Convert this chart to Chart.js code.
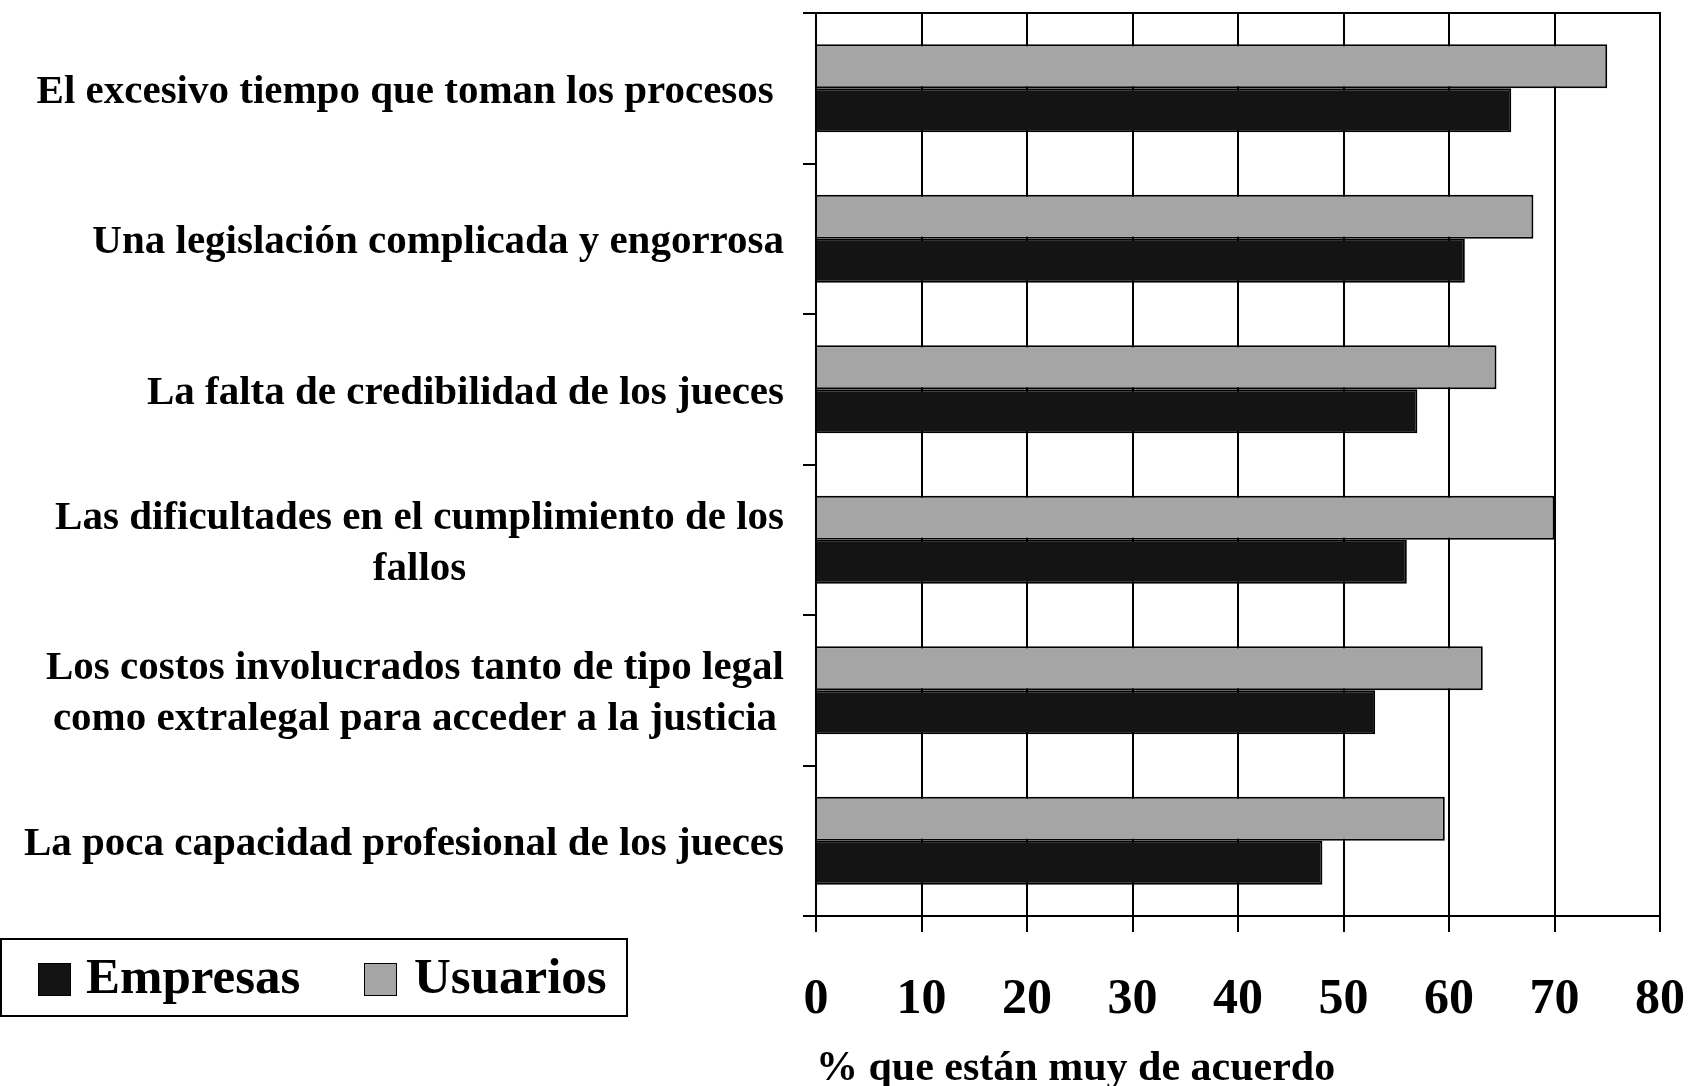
<!DOCTYPE html>
<html>
<head>
<meta charset="utf-8">
<script src="https://cdn.jsdelivr.net/npm/chart.js@4/dist/chart.umd.min.js"></script>
<style>
  body { margin: 0; background: #fff; }
  #wrap { position: relative; width: 1690px; height: 1086px; }
  #chart { position: absolute; left: 0; top: 0; }
  .legend {
    position: absolute; left: 0; top: 938px; width: 624px; height: 75px;
    border: 2px solid #000; background: #fff;
    font-family: "Liberation Serif", "Times New Roman", serif; font-weight: bold; font-size: 51px;
  }
  .legend .sw { position: absolute; top: 23px; width: 31px; height: 31px; border: 1px solid #000; }
  .legend .lb { position: absolute; top: 3px; line-height: 66px; color: #000; }
</style>
</head>
<body>
<div id="wrap">
  <canvas id="chart" width="1690" height="1086"></canvas>
  <div class="legend">
    <span class="sw" style="left:36px;background:#141414"></span>
    <span class="lb" style="left:84px">Empresas</span>
    <span class="sw" style="left:362px;background:#a5a5a5"></span>
    <span class="lb" style="left:412px">Usuarios</span>
  </div>
</div>
<script>
// categories, top to bottom
const categories = [
    ['El excesivo tiempo que toman los procesos '],
    ['Una legislación complicada y engorrosa'],
    ['La falta de credibilidad de los jueces'],
    ['Las dificultades en el cumplimiento de los', 'fallos'],
    ['Los costos involucrados tanto de tipo legal', 'como extralegal para acceder a la justicia'],
    ['La poca capacidad profesional de los jueces']
];
const usuarios = [75, 68, 64.5, 70, 63.2, 59.6];
const empresas = [65.9, 61.5, 57, 56, 53, 48];
const xTicks = [0, 10, 20, 30, 40, 50, 60, 70, 80];

const FONT = '"Liberation Serif", "Times New Roman", serif';

// category labels: block right-aligned, lines centred inside the block
const catLabels = {
    id: 'catLabels',
    afterDraw(chart) {
        const ctx = chart.ctx;
        const yScale = chart.scales.y;
        const right = chart.chartArea.left - 32;
        ctx.save();
        ctx.font = 'bold 41px ' + FONT;
        ctx.fillStyle = '#000';
        ctx.textBaseline = 'middle';
        ctx.textAlign = 'center';
        categories.forEach(function(lines, i) {
            const w = Math.max.apply(null, lines.map(l => ctx.measureText(l).width));
            const cx = right - w / 2;
            const cy = yScale.getPixelForValue(i) + 4;
            const lh = 51;
            lines.forEach(function(line, j) {
                ctx.fillText(line, cx, cy + (j - (lines.length - 1) / 2) * lh);
            });
        });
        ctx.restore();
    }
};

new Chart(document.getElementById('chart'), {
    type: 'bar',
    data: {
        labels: categories.map(c => c.join(' ')),
        datasets: [
            {
                label: 'Usuarios',
                data: usuarios,
                backgroundColor: '#a5a5a5',
                borderColor: '#000',
                borderWidth: 2
            },
            {
                label: 'Empresas',
                data: empresas,
                backgroundColor: '#141414',
                borderColor: '#000',
                borderWidth: 2
            }
        ]
    },
    options: {
        indexAxis: 'y',
        responsive: false,
        devicePixelRatio: 1,
        animation: false,
        datasets: {
            bar: { categoryPercentage: 0.585, barPercentage: 1.0 }
        },
        layout: { padding: { top: 13, right: 30, left: 0, bottom: 0 } },
        plugins: {
            legend: { display: false },
            tooltip: { enabled: false }
        },
        scales: {
            x: {
                type: 'linear',
                min: 0,
                max: 80,
                afterBuildTicks: function(scale) {
                    scale.ticks = xTicks.map(v => ({ value: v }));
                },
                afterFit: function(scale) {
                    scale.height = 170;
                    scale.paddingLeft = 0;
                    scale.paddingRight = 30;
                },
                grid: { color: '#000', lineWidth: 2, tickLength: 16, drawTicks: true },
                border: { display: true, color: '#000', width: 2 },
                ticks: {
                    color: '#000',
                    padding: 38,
                    maxRotation: 0,
                    font: { family: FONT, size: 50, weight: 'bold' }
                },
                title: {
                    display: true,
                    text: '% que están muy de acuerdo',
                    align: 'start',
                    color: '#000',
                    padding: { top: 0, bottom: 0 },
                    font: { family: FONT, size: 42, weight: 'bold', lineHeight: 0.8 }
                }
            },
            x2: {
                type: 'linear',
                position: 'top',
                min: 0,
                max: 80,
                afterFit: function(scale) { scale.height = 0; },
                ticks: { display: false },
                grid: { drawOnChartArea: false, drawTicks: false },
                border: { display: true, color: '#000', width: 2 }
            },
            y: {
                type: 'category',
                afterFit: function(scale) { scale.width = 816; },
                grid: { color: '#000', lineWidth: 2, tickLength: 13, drawOnChartArea: false, offset: true },
                border: { display: true, color: '#000', width: 2 },
                ticks: { display: false }
            }
        }
    },
    plugins: [catLabels]
});
</script>
</body>
</html>
